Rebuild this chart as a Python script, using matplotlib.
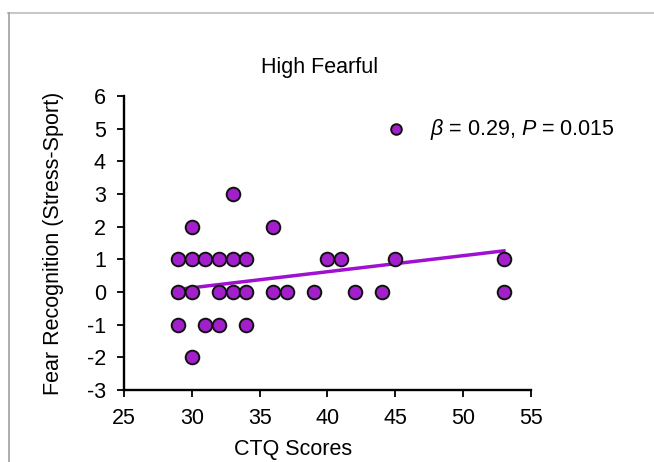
import numpy as np
import matplotlib
matplotlib.use("Agg")
import matplotlib.pyplot as plt
from matplotlib.lines import Line2D

plt.rcParams['font.family'] = ['Liberation Sans', 'DejaVu Sans']
plt.rcParams['mathtext.fontset'] = 'custom'
plt.rcParams['mathtext.rm'] = 'Liberation Sans'
plt.rcParams['mathtext.it'] = 'Liberation Sans:italic'
plt.rcParams['axes.unicode_minus'] = False

# CTQ score / fear recognition difference
ctq = [29, 30, 31, 32, 33, 34, 40, 41, 45, 53,
       29, 30, 32, 33, 34, 36, 37, 39, 42, 44, 53,
       29, 31, 32, 34,
       30,
       30, 36,
       33]
fear = [1, 1, 1, 1, 1, 1, 1, 1, 1, 1,
        0, 0, 0, 0, 0, 0, 0, 0, 0, 0, 0,
        -1, -1, -1, -1,
        -2,
        2, 2,
        3]

# fitted line ends
fit_x = [29, 53]
fit_y = [0.08, 1.26]

stat_label = r'$\beta$ = 0.29, $P$ = 0.015'

W, H = 654, 462
purple = '#a41fcc'
fs = 15.5

fig = plt.figure(figsize=(W / 100, H / 100), dpi=100)
ax = fig.add_axes([124 / W, 1 - 390 / H, (531 - 124) / W, (390 - 96) / H])

ax.plot(fit_x, fit_y, color='#a010d0', lw=2.5, zorder=2)
ax.scatter(ctq, fear, s=96, c=purple, edgecolors='#111111', linewidths=1.4,
           zorder=3, label=stat_label, clip_on=False)

ax.set_xlim(25, 55)
ax.set_ylim(-3, 6)
ax.set_xticks(range(25, 56, 5))
ax.set_yticks(range(-3, 7))

for s in ['top', 'right']:
    ax.spines[s].set_visible(False)
for s in ['left', 'bottom']:
    ax.spines[s].set_linewidth(1.7)
ax.tick_params(direction='out', length=5, width=1.3, labelsize=fs, pad=8)

ax.set_ylabel('Fear Recognition (Stress-Sport)', fontsize=fs)
ax.yaxis.set_label_coords(-0.147, 0.5)
# x label sits at the very bottom edge of the figure
fig.text(293 / W, 1.5 / H, 'CTQ Scores', fontsize=fs, ha='center', va='bottom')
fig.text(320 / W, 1 - 57 / H, 'High Fearful', fontsize=fs, ha='center', va='top')

ax.legend(loc='center left', bbox_to_anchor=(385.6 / W, 1 - 129 / H),
          bbox_transform=fig.transFigure, frameon=False, fontsize=fs,
          handlelength=1, handletextpad=1.05, borderpad=0, borderaxespad=0,
          markerscale=0.78)

# slide frame lines
fig.add_artist(Line2D([8 / W, 1], [1 - 13 / H, 1 - 13 / H], color='#c8c8c8', lw=1.5))
fig.add_artist(Line2D([9 / W, 9 / W], [0, 1 - 13 / H], color='#a0a0a0', lw=1.2))

fig.savefig('out.png', dpi=100)
